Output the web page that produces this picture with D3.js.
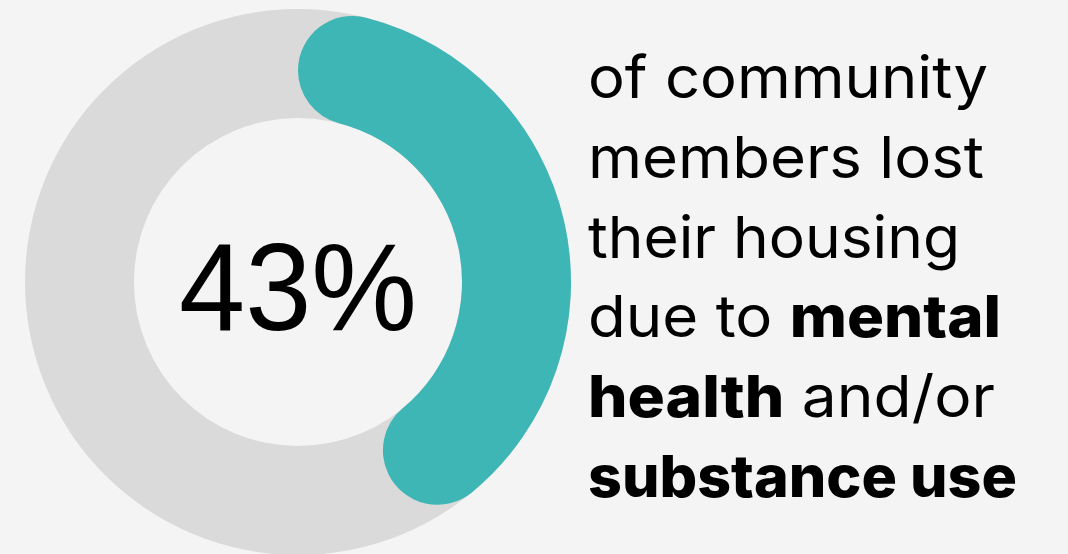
<!DOCTYPE html>
<html><head><meta charset="utf-8">
<script src="https://cdn.jsdelivr.net/npm/d3@7"></script>
<style>
html,body{margin:0;padding:0;background:#f4f4f4;}
svg{display:block;}
</style></head>
<body>
<svg id="chart" width="1068" height="554"></svg>
<script>
const categories = ["Lost housing due to mental health and/or substance use", "Other"];
const values = [43, 57];
const centerLabel = "43%";
const captionLines = [
  [["of community", false]],
  [["members lost", false]],
  [["their housing", false]],
  [["due to ", false], ["mental", true]],
  [["health", true], [" and/or", false]],
  [["substance use", true]]
];
const captionWidths = [400, 396, 372, 413, 407, 429];

const svg = d3.select("#chart");
svg.append("rect").attr("width",1068).attr("height",554).attr("fill","#f4f4f4");

const cx = 298, cy = 282, rOuter = 273, rInner = 164;
const g = svg.append("g").attr("transform",`translate(${cx},${cy})`);

const pie = d3.pie().sort(null).value(d => d);
const arcs = pie(values);

const ringArc = d3.arc().innerRadius(rInner).outerRadius(rOuter);
g.append("path")
  .attr("d", ringArc({startAngle:0, endAngle:2*Math.PI}))
  .attr("fill","#dadada");

const valueArc = d3.arc().innerRadius(rInner).outerRadius(rOuter).cornerRadius((rOuter-rInner)/2);
g.append("path")
  .attr("d", valueArc(arcs[0]))
  .attr("fill","#3db6b5");

g.append("text")
  .attr("x",0).attr("y",48)
  .attr("text-anchor","middle")
  .attr("font-family","'Liberation Sans', Arial, sans-serif")
  .attr("font-size",125)
  .attr("fill","#000")
  .attr("textLength",238).attr("lengthAdjust","spacingAndGlyphs")
  .text(centerLabel);

const tx = 588, baseY = 98, lineH = 79.8;
captionLines.forEach((segs,i) => {
  const t = svg.append("text")
    .attr("x",tx).attr("y",baseY + i*lineH)
    .attr("font-family","Inter, 'Noto Sans', sans-serif")
    .attr("font-size",58)
    .attr("fill","#000")
    .attr("textLength",captionWidths[i]).attr("lengthAdjust","spacingAndGlyphs");
  segs.forEach(([s,b]) => {
    t.append("tspan").attr("font-weight", b ? 800 : 400).text(s);
  });
});
</script>
</body></html>
